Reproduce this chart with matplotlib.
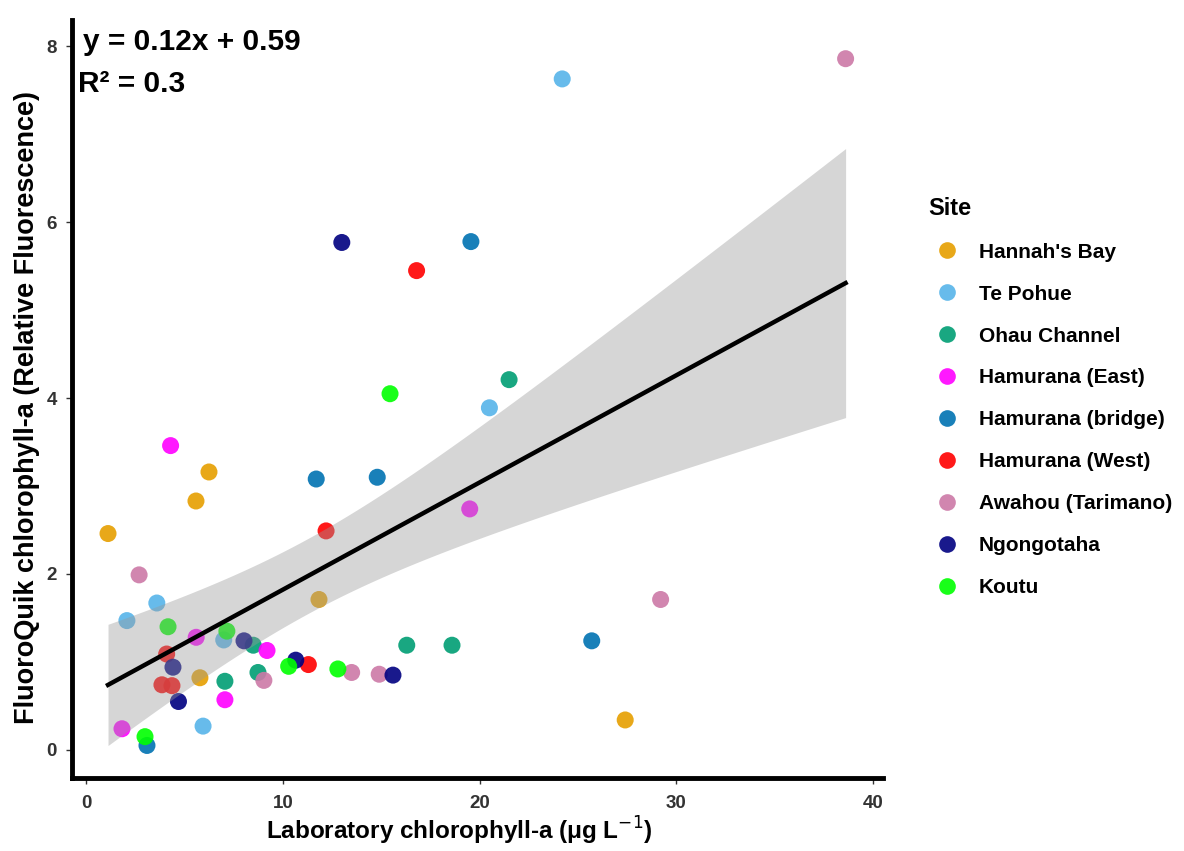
import numpy as np
import matplotlib
matplotlib.use("Agg")
import matplotlib.pyplot as plt
from matplotlib.lines import Line2D

plt.rcParams['font.family'] = ['Liberation Sans', 'DejaVu Sans']

sites = ["Hannah's Bay", "Te Pohue", "Ohau Channel", "Hamurana (East)",
         "Hamurana (bridge)", "Hamurana (West)", "Awahou (Tarimano)",
         "Ngongotaha", "Koutu"]
colors = ["#E69F00", "#56B4E9", "#009E73", "#FF00FF", "#0072B2",
          "#FF0000", "#CC79A7", "#000080", "#00FF00"]

lab_x = {
    "Hannah's Bay":      [1.12, 5.59, 6.25, 11.84, 5.79, 27.4],
    "Te Pohue":          [24.2, 20.5, 3.6, 2.08, 7.0, 5.95],
    "Ohau Channel":      [21.5, 16.3, 18.6, 8.5, 8.74, 7.06],
    "Hamurana (East)":   [4.3, 19.5, 5.6, 9.2, 7.06, 1.83],
    "Hamurana (bridge)": [19.56, 11.7, 14.8, 25.7, 3.1],
    "Hamurana (West)":   [16.8, 12.2, 11.3, 4.1, 3.86, 4.37],
    "Awahou (Tarimano)": [38.6, 2.7, 29.2, 13.5, 14.9, 9.04],
    "Ngongotaha":        [13.0, 8.03, 4.42, 4.7, 10.66, 15.6],
    "Koutu":             [15.45, 4.17, 7.16, 10.3, 12.8, 3.0],
}
fq_y = {
    "Hannah's Bay":      [2.46, 2.83, 3.16, 1.71, 0.82, 0.34],
    "Te Pohue":          [7.63, 3.89, 1.67, 1.47, 1.25, 0.27],
    "Ohau Channel":      [4.21, 1.19, 1.19, 1.19, 0.88, 0.78],
    "Hamurana (East)":   [3.46, 2.74, 1.28, 1.13, 0.57, 0.24],
    "Hamurana (bridge)": [5.78, 3.08, 3.10, 1.24, 0.05],
    "Hamurana (West)":   [5.45, 2.49, 0.97, 1.09, 0.74, 0.73],
    "Awahou (Tarimano)": [7.86, 1.99, 1.71, 0.88, 0.86, 0.79],
    "Ngongotaha":        [5.77, 1.24, 0.94, 0.55, 1.02, 0.85],
    "Koutu":             [4.05, 1.40, 1.35, 0.95, 0.92, 0.15],
}

x_ticks = [0, 10, 20, 30, 40]
y_ticks = [0, 2, 4, 6, 8]

fig = plt.figure(figsize=(11.84, 8.51), dpi=100)
ax = fig.add_axes([72/1184, 1-778/851, (883-72)/1184, (778-20)/851])

for s, c in zip(sites, colors):
    ax.scatter(lab_x[s], fq_y[s], s=150, color=c, alpha=0.9, edgecolors='none', zorder=2)

# linear fit with 95% CI
X = np.concatenate([lab_x[s] for s in sites])
Y = np.concatenate([fq_y[s] for s in sites])
n = len(X)
b, a = np.polyfit(X, Y, 1)
xs = np.linspace(X.min(), X.max(), 200)
yhat = a + b * xs
resid = Y - (a + b * X)
s_err = np.sqrt(np.sum(resid**2) / (n - 2))
Sxx = np.sum((X - X.mean())**2)
se = s_err * np.sqrt(1.0 / n + (xs - X.mean())**2 / Sxx)
tval = 2.007
ax.fill_between(xs, yhat - tval*se, yhat + tval*se, color='#999999', alpha=0.4,
                linewidth=0, zorder=3)
ax.plot(xs, yhat, color='black', linewidth=3.2, zorder=4)

ax.set_xlim(-0.71, 40.5)
ax.set_ylim(-0.32, 8.3)
ax.set_xticks(x_ticks)
ax.set_yticks(y_ticks)
ax.tick_params(axis='both', labelsize=13.5, colors='#333333', length=4, width=1)
ax.tick_params(axis='x', pad=8)
ax.tick_params(axis='y', pad=7)
for lbl in ax.get_xticklabels() + ax.get_yticklabels():
    lbl.set_fontweight('bold')
for sp in ['top', 'right']:
    ax.spines[sp].set_visible(False)
for sp in ['left', 'bottom']:
    ax.spines[sp].set_linewidth(3.5)
    ax.spines[sp].set_color('black')

ax.set_xlabel("Laboratory chlorophyll-a (μg L$^{-1}$)", fontsize=17.5, fontweight='bold', va='center')
ax.xaxis.set_label_coords(0.477, -0.070)
ax.set_ylabel("FluoroQuik chlorophyll-a (Relative Fluorescence)", fontsize=19.5, fontweight='bold', va='center')
ax.yaxis.set_label_coords(-0.055, 0.489)

ax.text(0.014, 0.971, "y = 0.12x + 0.59", transform=ax.transAxes, fontsize=21.5,
        fontweight='bold', va='center', ha='left')
ax.text(0.008, 0.915, "R² = 0.3", transform=ax.transAxes, fontsize=21.5,
        fontweight='bold', va='center', ha='left')

handles = [Line2D([0], [0], marker='o', linestyle='none', markersize=12,
                  markerfacecolor=c, markeredgecolor='none', alpha=0.9) for c in colors]
leg = fig.legend(handles, sites, loc='upper left', bbox_to_anchor=(910/1184, 1-178/851),
                 frameon=False, title="Site", prop={'weight': 'bold', 'size': 15},
                 labelspacing=1.10, handletextpad=0.6, handlelength=1.8, alignment='left')
leg.get_title().set_fontsize(17)
leg.get_title().set_fontweight('bold')

fig.savefig("out.png", dpi=100)
